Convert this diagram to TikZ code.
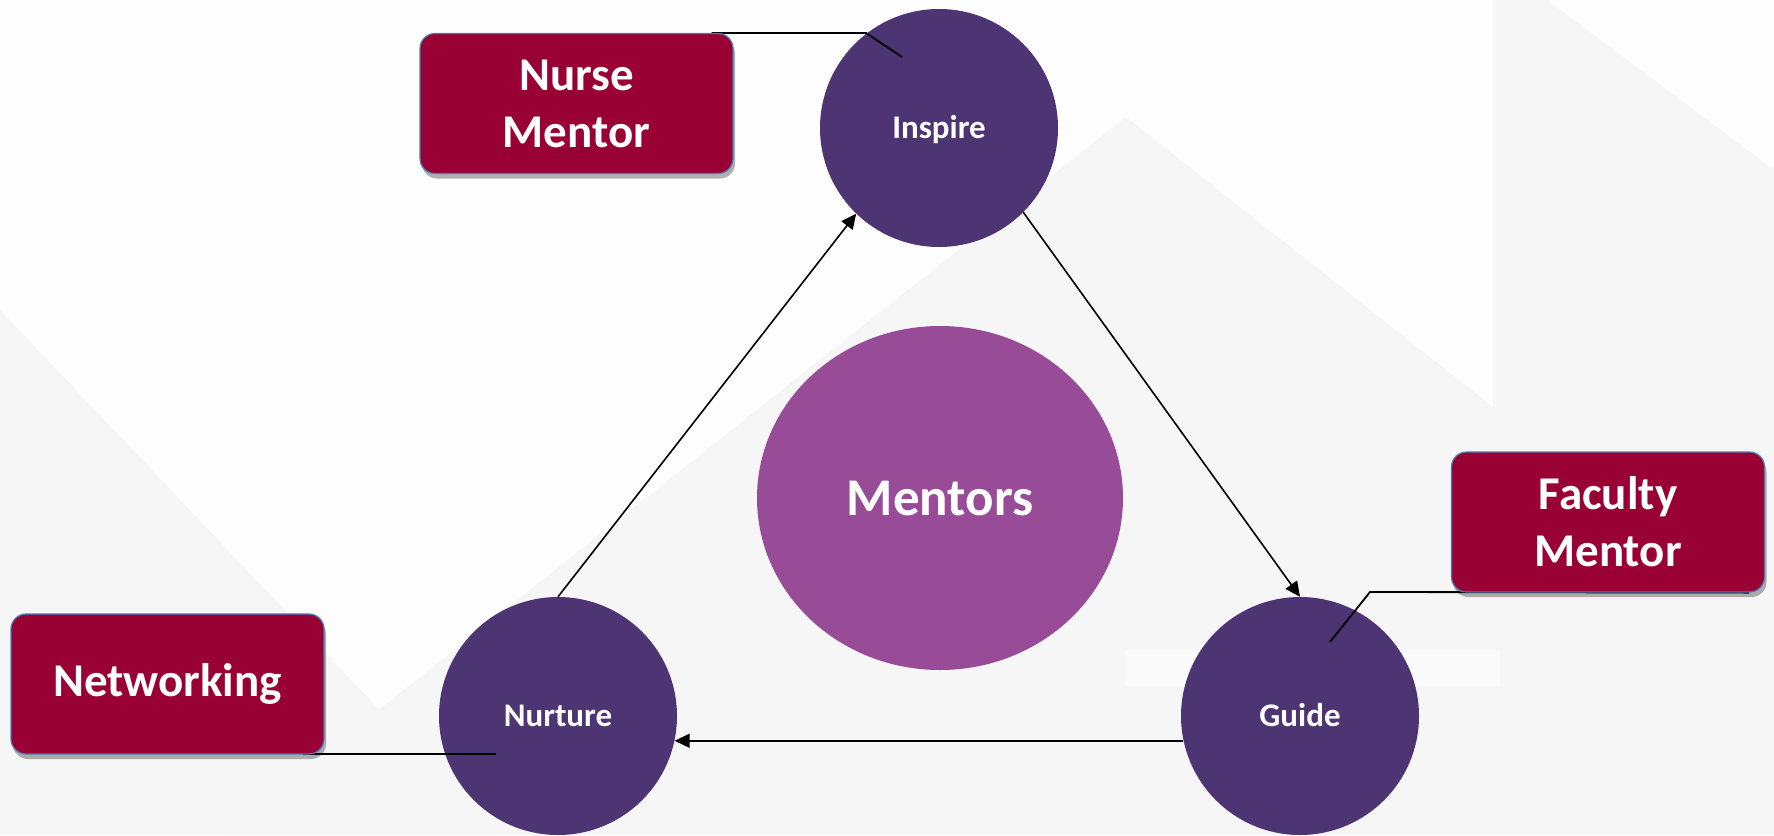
\documentclass[tikz,border=0pt]{standalone}
\usepackage{fontspec}
\setmainfont{Carlito}
\usetikzlibrary{arrows.meta,shadows,shapes.geometric}
\definecolor{boxred}{HTML}{990033}
\definecolor{circpurple}{HTML}{4D3573}
\definecolor{mentpurple}{HTML}{984C98}
\definecolor{boxedge}{HTML}{4A7EBB}
\definecolor{bggray}{HTML}{F6F6F6}
\definecolor{bgwhite}{HTML}{FDFDFD}
\definecolor{bglight}{HTML}{FAFAFA}
\pgfdeclarelayer{bglayer}
\pgfdeclarelayer{circlelayer}
\pgfdeclarelayer{linelayer}
\pgfsetlayers{bglayer,circlelayer,linelayer,main}
\begin{document}
\begin{tikzpicture}[x=1pt,y=-1pt,
  rolebox/.style={rectangle, rounded corners=15pt, minimum width=313pt, minimum height=140pt,
    fill=boxred, draw=boxedge, line width=1.2pt, text=white, align=center,
    font=\fontsize{47}{57}\selectfont\bfseries, inner sep=0pt,
    drop shadow={shadow xshift=2pt, shadow yshift=-5pt, opacity=0.3, fill=black}},
  stage/.style={circle, minimum size=238pt, fill=circpurple, text=white,
    font=\fontsize{33}{40}\selectfont\bfseries, inner sep=0pt, text height=21pt, text depth=0pt},
  hub/.style={ellipse, minimum width=366pt, minimum height=344pt, fill=mentpurple, text=white,
    font=\fontsize{53}{64}\selectfont\bfseries, inner sep=0pt, text height=34pt, text depth=0pt},
  flow/.style={line width=1.6pt, -{Triangle[length=15pt,width=14pt]}},
  callout/.style={line width=1.8pt},
]
\useasboundingbox (0,0) rectangle (1774,835);
\begin{pgfonlayer}{bglayer}
  \fill[bgwhite] (0,0) rectangle (1774,835);
  \fill[bggray] (0,310) -- (498,835) -- (0,835) -- cycle;
  \fill[bggray] (1126,117) -- (1493,407) -- (1493,835) -- (221,835) -- cycle;
  \fill[bggray] (1493,0) -- (1547,0) -- (1774,170) -- (1774,835) -- (1493,835) -- cycle;
  \fill[bglight] (1125,650) rectangle (1500,687);
\end{pgfonlayer}

% boxes (top layer)
\node[rolebox] (nurse) at (576.5,103.5) {Nurse\\Mentor};
\node[rolebox] (faculty) at (1608,522) {Faculty\\Mentor};
\node[rolebox] (networking) at (167.5,684) {Networking};

% circles
\begin{pgfonlayer}{circlelayer}
  \node[stage] (inspire) at (939,128) {Inspire};
  \node[stage] (nurture) at (558,716) {Nurture};
  \node[stage] (guide) at (1300,716) {Guide};
  \node[hub] (mentors) at (940,498) {Mentors};
\end{pgfonlayer}

% connectors
\coordinate (nmknee) at (866,33);
\coordinate (nmend) at (902,57);
\coordinate (fmknee) at (1370,592);
\coordinate (fmend) at (1330,642);
\coordinate (nwend) at (496,754);
\begin{pgfonlayer}{linelayer}
  \draw[callout] ([xshift=-22pt]nurse.north east |- nmknee) -- (nmknee) -- (nmend);
  \draw[callout] ([xshift=-16pt]faculty.south east) -- (fmknee) -- (fmend);
  \draw[callout] ([xshift=-22pt]networking.south east |- nwend) -- (nwend);
  \draw[flow] (nurture.north) -- (inspire.226);
  \draw[flow] (inspire.-45) -- (guide.north);
  \draw[flow] (guide.192) -- (nurture.-12);
\end{pgfonlayer}
\end{tikzpicture}
\end{document}
